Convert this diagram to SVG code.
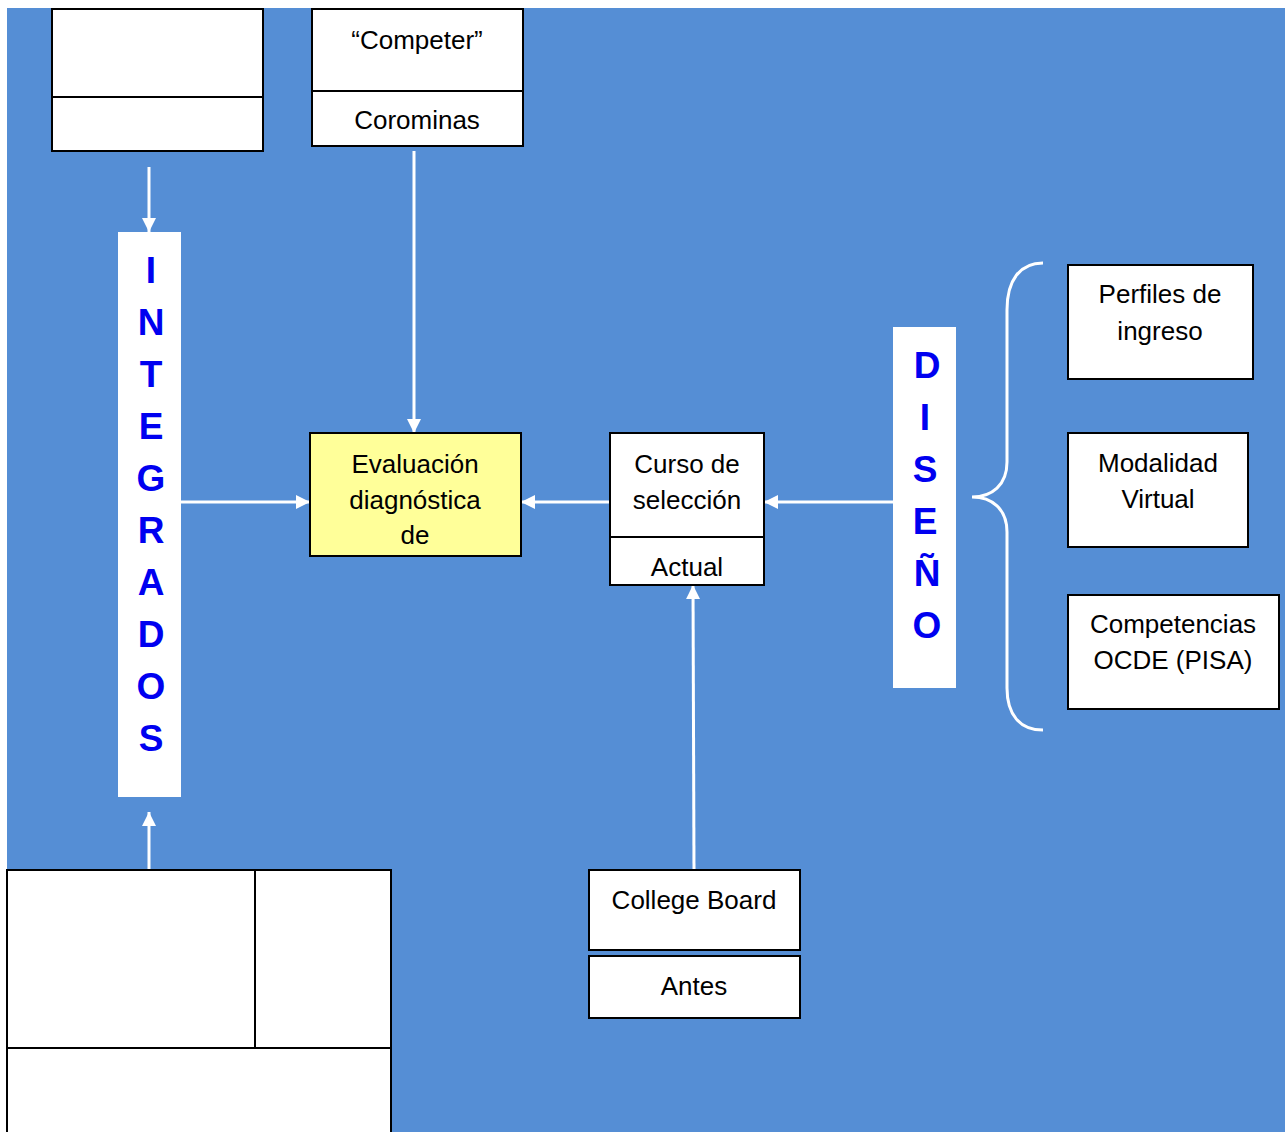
<svg xmlns="http://www.w3.org/2000/svg" width="1285" height="1132" viewBox="0 0 1285 1132">
<style>
.box{fill:#fff;stroke:#000;stroke-width:2}
.div{stroke:#000;stroke-width:2}
.t{font-family:"Liberation Sans",Arial,sans-serif;font-size:26px;fill:#000;text-anchor:middle}
.v{font-family:"Liberation Sans",Arial,sans-serif;font-size:37px;font-weight:bold;fill:#0000F0;text-anchor:middle}
.c{stroke:#fff;stroke-width:3;fill:none}
</style>
<defs>
<marker id="ah" markerUnits="userSpaceOnUse" viewBox="0 0 14 14" refX="14" refY="7" markerWidth="14" markerHeight="14" orient="auto">
<path d="M0,0 L14,7 L0,14 Z" fill="#fff"/>
</marker>
</defs>
<rect x="0" y="0" width="1285" height="1132" fill="#fff"/>
<rect x="7" y="8" width="1278" height="1124" fill="#558ED5"/>

<g id="connectors">
<line class="c" x1="149" y1="167" x2="149" y2="232" marker-end="url(#ah)"/>
<line class="c" x1="149" y1="870" x2="149" y2="812" marker-end="url(#ah)"/>
<line class="c" x1="181" y1="502" x2="310" y2="502" marker-end="url(#ah)"/>
<line class="c" x1="414" y1="151" x2="414" y2="433" marker-end="url(#ah)"/>
<line class="c" x1="610" y1="502" x2="521" y2="502" marker-end="url(#ah)"/>
<line class="c" x1="893" y1="502" x2="764" y2="502" marker-end="url(#ah)"/>
<line class="c" x1="694" y1="870" x2="693" y2="585" marker-end="url(#ah)"/>
<path class="c" d="M1043,263 C1020,263 1007,280 1007,310 L1007,462 C1007,485 992,497 972,497 C992,497 1007,509 1007,532 L1007,688 C1007,715 1020,730 1043,730"/>
</g>

<g id="box-topleft">
<rect class="box" x="52" y="9" width="211" height="142"/>
<line class="div" x1="52" y1="97" x2="263" y2="97"/>
</g>

<g id="box-competer">
<rect class="box" x="312" y="9" width="211" height="137"/>
<line class="div" x1="312" y1="91" x2="523" y2="91"/>
<text class="t" x="417" y="49">“Competer”</text>
<text class="t" x="417" y="129">Corominas</text>
</g>

<g id="integrados">
<rect x="118" y="232" width="63" height="565" fill="#fff"/>
<text class="v" x="151" y="283">I</text>
<text class="v" x="151" y="335">N</text>
<text class="v" x="151" y="387">T</text>
<text class="v" x="151" y="439">E</text>
<text class="v" x="151" y="491">G</text>
<text class="v" x="151" y="543">R</text>
<text class="v" x="151" y="595">A</text>
<text class="v" x="151" y="647">D</text>
<text class="v" x="151" y="699">O</text>
<text class="v" x="151" y="751">S</text>
</g>

<g id="evaluacion">
<rect x="310" y="433" width="211" height="123" fill="#FFFF99" stroke="#000" stroke-width="2"/>
<text class="t" x="415" y="473">Evaluación</text>
<text class="t" x="415" y="509">diagnóstica</text>
<text class="t" x="415" y="544">de</text>
</g>

<g id="curso">
<rect class="box" x="610" y="433" width="154" height="152"/>
<line class="div" x1="610" y1="537" x2="764" y2="537"/>
<text class="t" x="687" y="473">Curso de</text>
<text class="t" x="687" y="509">selección</text>
<text class="t" x="687" y="576">Actual</text>
</g>

<g id="diseno">
<rect x="893" y="327" width="63" height="361" fill="#fff"/>
<text class="v" x="927" y="378">D</text>
<text class="v" x="925" y="430">I</text>
<text class="v" x="925" y="482">S</text>
<text class="v" x="925" y="534">E</text>
<text class="v" x="927" y="586">Ñ</text>
<text class="v" x="927" y="638">O</text>
</g>

<g id="perfiles">
<rect class="box" x="1068" y="265" width="185" height="114"/>
<text class="t" x="1160" y="303">Perfiles de</text>
<text class="t" x="1160" y="340">ingreso</text>
</g>

<g id="modalidad">
<rect class="box" x="1068" y="433" width="180" height="114"/>
<text class="t" x="1158" y="472">Modalidad</text>
<text class="t" x="1158" y="508">Virtual</text>
</g>

<g id="competencias">
<rect class="box" x="1068" y="595" width="211" height="114"/>
<text class="t" x="1173" y="633">Competencias</text>
<text class="t" x="1173" y="669">OCDE (PISA)</text>
</g>

<g id="college">
<rect class="box" x="589" y="870" width="211" height="80"/>
<text class="t" x="694" y="909">College Board</text>
</g>

<g id="antes">
<rect class="box" x="589" y="956" width="211" height="62"/>
<text class="t" x="694" y="995">Antes</text>
</g>

<g id="table-bottomleft">
<rect class="box" x="7" y="870" width="384" height="270"/>
<line class="div" x1="255" y1="870" x2="255" y2="1048"/>
<line class="div" x1="7" y1="1048" x2="391" y2="1048"/>
</g>
</svg>
